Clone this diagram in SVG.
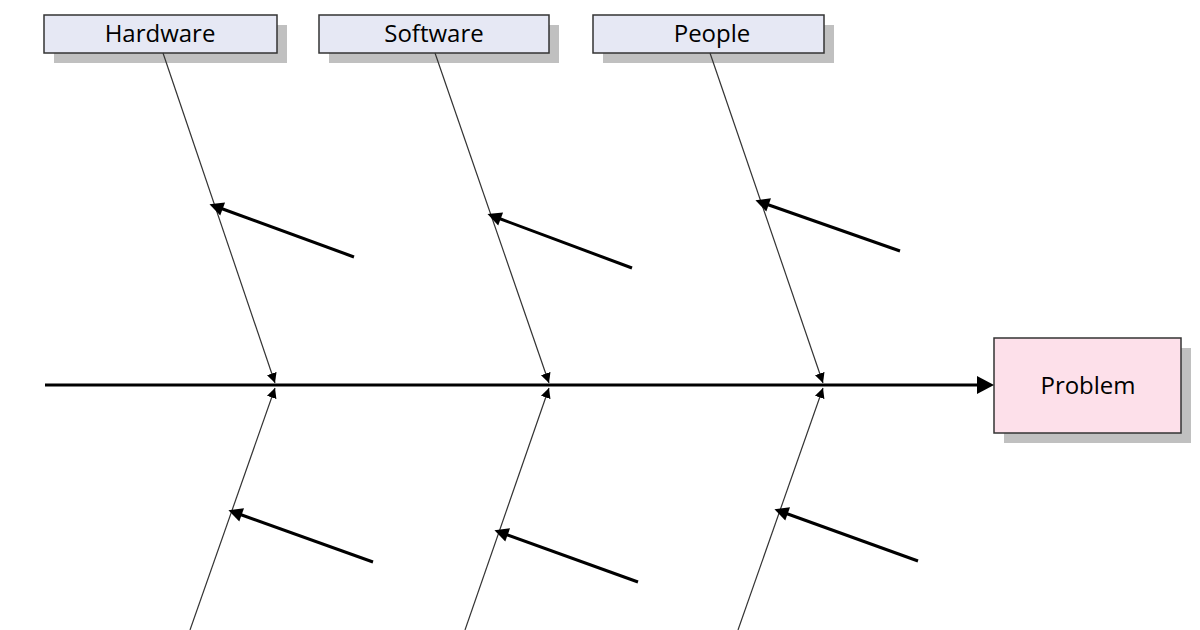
<svg xmlns="http://www.w3.org/2000/svg" width="1200" height="630" viewBox="0 0 1200 630">
<style>
.box{fill:#e6e8f4;stroke:#333;stroke-width:1.5}
.sh{fill:#c0c0c0}
.t{font-family:"Open Sans","Liberation Sans",sans-serif;font-size:24px;fill:#000;text-anchor:middle}
.bone{stroke:#333;stroke-width:1.2;fill:none;marker-end:url(#sm)}
.sub{stroke:#000;stroke-width:3;fill:none;marker-end:url(#big)}
</style>
<defs>
<marker id="sm" viewBox="0 0 10 10" refX="10" refY="5" markerWidth="10" markerHeight="10" markerUnits="userSpaceOnUse" orient="auto"><path d="M0,0L10,5L0,10z" fill="#000"/></marker>
<marker id="big" viewBox="0 0 10 10" refX="2" refY="5" markerWidth="16" markerHeight="14" markerUnits="userSpaceOnUse" orient="auto"><path d="M0,0L10,5L0,10z" fill="#000"/></marker>
</defs>
<rect width="1200" height="630" fill="#fff"/>
<g id="hardware"><rect class="sh" x="54" y="25" width="233" height="38"/><rect class="box" x="44" y="15" width="233" height="38"/><text class="t" x="160" y="42">Hardware</text></g>
<g id="software"><rect class="sh" x="329" y="25" width="230" height="38"/><rect class="box" x="319" y="15" width="230" height="38"/><text class="t" x="434" y="42">Software</text></g>
<g id="people"><rect class="sh" x="603" y="25" width="231" height="38"/><rect class="box" x="593" y="15" width="231" height="38"/><text class="t" x="712" y="42">People</text></g>
<g id="problem"><rect class="sh" x="1004" y="348" width="187" height="95"/><rect x="994" y="338" width="187" height="95" fill="#fde0ea" stroke="#333" stroke-width="1.5"/><text class="t" x="1088" y="394">Problem</text></g>
<g id="connectors">
<line x1="45" y1="385" x2="978" y2="385" stroke="#000" stroke-width="3"/>
<path d="M977,376L994,385L977,394z" fill="#000"/>
<line class="bone" x1="163" y1="53" x2="275" y2="383"/>
<line class="bone" x1="190" y1="630" x2="275" y2="388"/>
<line class="bone" x1="435" y1="53" x2="549" y2="383"/>
<line class="bone" x1="465" y1="630" x2="549" y2="388"/>
<line class="bone" x1="710" y1="53" x2="823" y2="383"/>
<line class="bone" x1="738" y1="630" x2="823" y2="388"/>
<line class="sub" x1="354" y1="257" x2="220" y2="208"/>
<line class="sub" x1="632" y1="268" x2="498" y2="218"/>
<line class="sub" x1="900" y1="251" x2="766" y2="204"/>
<line class="sub" x1="373" y1="562" x2="239" y2="514"/>
<line class="sub" x1="638" y1="582" x2="505" y2="534"/>
<line class="sub" x1="918" y1="561" x2="785" y2="513"/>
</g>
</svg>
